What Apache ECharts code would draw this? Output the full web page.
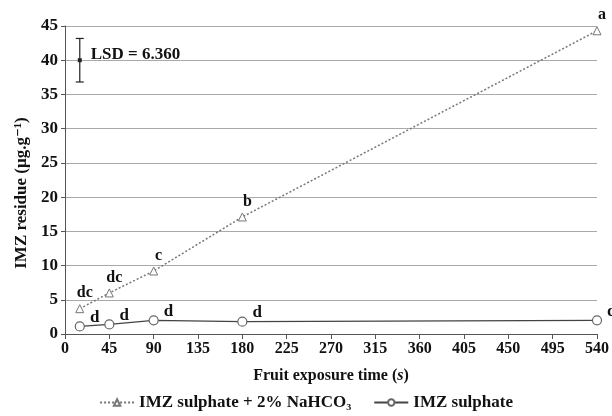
<!DOCTYPE html>
<html><head><meta charset="utf-8">
<script src="https://cdn.jsdelivr.net/npm/echarts@6/dist/echarts.min.js"></script>
<style>html,body{margin:0;padding:0;background:#fff}#c{width:612px;height:416px}</style>
</head><body><div id="c"></div>
<script>
const times = [15, 45, 90, 180, 540];
const naHCO3Values = [3.7, 6.0, 9.2, 17.1, 44.3];
const naHCO3Letters = ['dc', 'dc', 'c', 'b', 'a'];
const sulphateValues = [1.1, 1.4, 2.0, 1.8, 2.0];
const sulphateLetters = ['d', 'd', 'd', 'd', 'd'];
const lsdX = 15, lsdMean = 40, lsdValue = 6.360;
const xTicks = [0, 45, 90, 135, 180, 225, 270, 315, 360, 405, 450, 495, 540];

const FONT = '"Liberation Serif", "DejaVu Serif", serif';
const chart = echarts.init(document.getElementById('c'));

function pts(vals){ return times.map((t,i)=>[t, vals[i]]); }

chart.setOption({
  animation: false,
  textStyle: {fontFamily: FONT},
  grid: {left: 65, right: 15, top: 26, bottom: 82},
  xAxis: {
    type: 'value', min: 0, max: 540, interval: 45,
    name: '{b|Fruit exposure time (}{i|s}{b|)}',
    nameLocation: 'middle', nameGap: 34,
    nameTextStyle: {rich: {
      b: {fontFamily: FONT, fontWeight: 'bold', fontSize: 16, color: '#111'},
      i: {fontFamily: FONT, fontWeight: 'bold', fontStyle: 'italic', fontSize: 16, color: '#111'}
    }},
    axisLine: {lineStyle: {color: '#555', width: 1}},
    axisTick: {show: true, length: 5, lineStyle: {color: '#555'}},
    axisLabel: {fontFamily: FONT, fontWeight: 'bold', fontSize: 16, color: '#111', margin: 7,
      formatter: v => xTicks.includes(v) ? String(v) : ''},
    splitLine: {show: false}
  },
  yAxis: {
    type: 'value', min: 0, max: 45, interval: 5,
    name: 'IMZ residue (µg.g⁻¹)',
    nameLocation: 'middle', nameGap: 34,
    nameTextStyle: {fontFamily: FONT, fontWeight: 'bold', fontSize: 17, color: '#111', padding: [0, 26, 0, 0]},
    axisLine: {show: true, lineStyle: {color: '#555', width: 1}},
    axisTick: {show: true, length: 4, lineStyle: {color: '#555'}},
    axisLabel: {fontFamily: FONT, fontWeight: 'bold', fontSize: 17, color: '#111', margin: 7},
    splitLine: {show: true, lineStyle: {color: '#aaa', width: 1}}
  },
  legend: {
    bottom: 0, left: 'center', itemGap: 22, itemWidth: 34, itemHeight: 8,
    textStyle: {fontFamily: FONT, fontWeight: 'bold', fontSize: 17, color: '#111'},
    data: ['IMZ sulphate + 2% NaHCO₃', 'IMZ sulphate']
  },
  series: [
    {
      name: 'IMZ sulphate + 2% NaHCO₃', type: 'line', data: pts(naHCO3Values),
      symbol: 'triangle', symbolSize: 8, showAllSymbol: true,
      itemStyle: {color: '#fff', borderColor: '#777', borderWidth: 1},
      lineStyle: {color: '#777', width: 1.5, type: [2, 2]},
      label: {show: true, position: 'top', offset: [5, 2],
        formatter: p => naHCO3Letters[p.dataIndex],
        fontFamily: FONT, fontWeight: 'bold', fontSize: 16, color: '#111'},
      z: 3
    },
    {
      name: 'IMZ sulphate', type: 'line', data: pts(sulphateValues),
      symbol: 'circle', symbolSize: 9, showAllSymbol: true,
      itemStyle: {color: '#fff', borderColor: '#666', borderWidth: 1.2},
      lineStyle: {color: '#444', width: 1.2},
      label: {show: true, position: 'right', distance: 5, offset: [0, -9],
        formatter: p => sulphateLetters[p.dataIndex],
        fontFamily: FONT, fontWeight: 'bold', fontSize: 17, color: '#111'},
      z: 3
    },
    {
      type: 'custom', silent: true,
      data: [[lsdX, lsdMean - lsdValue/2, lsdMean + lsdValue/2, lsdMean]],
      renderItem: function(params, api){
        const lo = api.coord([api.value(0), api.value(1)]);
        const hi = api.coord([api.value(0), api.value(2)]);
        const mid = api.coord([api.value(0), api.value(3)]);
        const w = 4;
        const st = {stroke: '#222', lineWidth: 1.2};
        return {type: 'group', children: [
          {type: 'line', shape: {x1: lo[0], y1: lo[1], x2: hi[0], y2: hi[1]}, style: st},
          {type: 'line', shape: {x1: lo[0]-w, y1: lo[1], x2: lo[0]+w, y2: lo[1]}, style: st},
          {type: 'line', shape: {x1: hi[0]-w, y1: hi[1], x2: hi[0]+w, y2: hi[1]}, style: st},
          {type: 'rect', shape: {x: mid[0]-2, y: mid[1]-2, width: 4, height: 4}, style: {fill: '#222'}},
          {type: 'text', x: mid[0] + 11, y: mid[1] - 6, style: {
            text: 'LSD = ' + lsdValue.toFixed(3), fill: '#111',
            font: 'bold 17px ' + FONT, verticalAlign: 'middle', align: 'left'}}
        ]};
      }
    }
  ]
});
</script></body></html>
